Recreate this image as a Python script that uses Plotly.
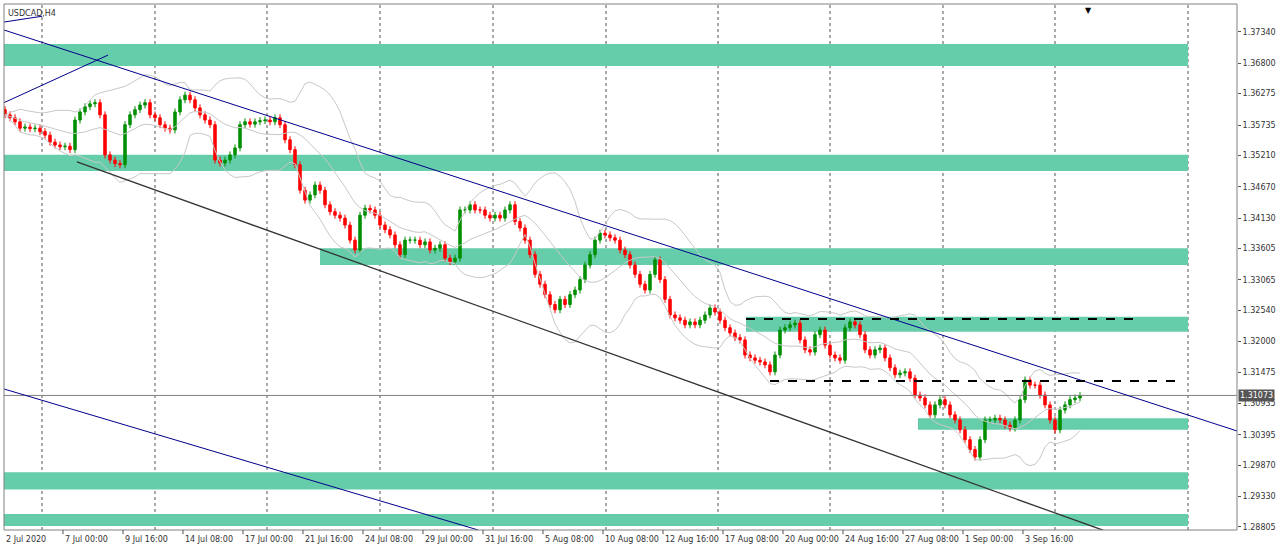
import plotly.graph_objects as go
import pandas as pd

closes = [1.3591,1.3586,1.3579,1.3568,1.3570,1.3567,1.3568,1.3562,1.3556,1.3544,
1.3539,1.3536,1.3537,1.3531,1.3582,1.3596,1.3605,1.3610,1.3612,1.3591,
1.3522,1.3513,1.3507,1.3505,1.3574,1.3591,1.3600,1.3608,1.3612,1.3591,
1.3586,1.3574,1.3568,1.3565,1.3596,1.3617,1.3625,1.3617,1.3603,1.3591,
1.3582,1.3574,1.3513,1.3508,1.3513,1.3522,1.3534,1.3574,1.3579,1.3575,
1.3579,1.3581,1.3582,1.3579,1.3586,1.3574,1.3548,1.3531,1.3505,1.3461,
1.3444,1.3453,1.3470,1.3461,1.3436,1.3424,1.3418,1.3413,1.3401,1.3375,
1.3358,1.3418,1.3430,1.3427,1.3418,1.3401,1.3393,1.3384,1.3367,1.3350,
1.3375,1.3375,1.3375,1.3367,1.3372,1.3358,1.3361,1.3367,1.3344,1.3338,
1.3344,1.3427,1.3427,1.3436,1.3427,1.3427,1.3418,1.3413,1.3418,1.3413,
1.3427,1.3436,1.3407,1.3396,1.3375,1.3350,1.3316,1.3299,1.3281,1.3264,
1.3255,1.3273,1.3264,1.3281,1.3289,1.3307,1.3332,1.3350,1.3375,1.3387,
1.3384,1.3379,1.3375,1.3358,1.3350,1.3332,1.3316,1.3299,1.3289,1.3316,
1.3341,1.3307,1.3273,1.3246,1.3241,1.3237,1.3229,1.3234,1.3229,1.3237,
1.3246,1.3258,1.3251,1.3237,1.3224,1.3215,1.3207,1.3203,1.3177,1.3172,
1.3168,1.3165,1.3160,1.3148,1.3177,1.3220,1.3224,1.3229,1.3232,1.3203,
1.3186,1.3182,1.3212,1.3220,1.3194,1.3177,1.3172,1.3168,1.3224,1.3234,
1.3229,1.3212,1.3186,1.3177,1.3186,1.3189,1.3172,1.3155,1.3143,1.3146,
1.3148,1.3137,1.3108,1.3103,1.3091,1.3074,1.3091,1.3100,1.3091,1.3074,
1.3065,1.3048,1.3031,1.3014,1.3001,1.3031,1.3065,1.3065,1.3068,1.3065,
1.3056,1.3051,1.3065,1.3100,1.3134,1.3125,1.3125,1.3108,1.3091,1.3065,
1.3048,1.3082,1.3091,1.3100,1.3103,1.3107]
first_open = 1.3600
wick = 0.0006
current_price = 1.31073

ytick_vals = [1.37340,1.36800,1.36275,1.35735,1.35210,1.34670,1.34130,1.33605,1.33065,
              1.32540,1.32000,1.31475,1.30935,1.30395,1.29870,1.29330,1.28805]
date_labels = ["7 Jul 00:00","9 Jul 16:00","14 Jul 08:00","17 Jul 00:00","21 Jul 16:00",
               "24 Jul 08:00","29 Jul 00:00","31 Jul 16:00","5 Aug 08:00","10 Aug 08:00",
               "12 Aug 16:00","17 Aug 08:00","20 Aug 00:00","24 Aug 16:00","27 Aug 08:00",
               "1 Sep 00:00","3 Sep 16:00"]
first_label = "2 Jul 2020"

zones = [(-1, 236.6, 1.3675, 1.3713), (-1, 236.6, 1.3494, 1.3522), (63, 236.6, 1.3332, 1.3361),
         (148.2, 236.6, 1.3217, 1.3243), (182.6, 236.6, 1.3048, 1.3068),
         (-1, 236.6, 1.2945, 1.2975), (-1, 236.6, 1.2882, 1.2903)]
lines = [(-0.2, 1.37373, 246.4, 1.30460, "#00008B", 1, "solid"),
         (-0.2, 1.3612, 20.6, 1.3694, "#00008B", 1, "solid"),
         (-0.2, 1.3751, 7.4, 1.3761, "#00008B", 1, "solid"),
         (-0.2, 1.31184, 94.6, 1.28754, "#00008B", 1, "solid"),
         (14.4, 1.35098, 219.6, 1.2875, "#333333", 1.3, "solid"),
         (148.2, 1.3239, 227.0, 1.3239, "#000000", 2, "dash"),
         (153.0, 1.31323, 234.4, 1.31323, "#000000", 2, "dash")]

n = len(closes)
idx = list(range(n))
opens = [first_open] + closes[:-1]
highs = [max(o, c) + wick for o, c in zip(opens, closes)]
lows = [min(o, c) - wick for o, c in zip(opens, closes)]

s = pd.Series(closes)
ma = s.rolling(14, min_periods=1).mean()
sd = s.rolling(14, min_periods=2).std().fillna(0)

def px2k(px):
    return (px - 5) / 5.0

fig = go.Figure()
for band in [ma + 2 * sd, ma - 2 * sd, ma]:
    fig.add_trace(go.Scatter(x=idx, y=band, mode="lines", line=dict(color="#c8c8c8", width=1),
                             hoverinfo="skip", showlegend=False))
fig.add_trace(go.Candlestick(x=idx, open=opens, high=highs, low=lows, close=closes,
                             increasing=dict(line=dict(color="#008f00", width=1), fillcolor="#008f00"),
                             decreasing=dict(line=dict(color="#ff0000", width=1), fillcolor="#ff0000"),
                             whiskerwidth=0, showlegend=False))

shapes = []
for x0, x1, p0, p1 in zones:
    shapes.append(dict(type="rect", x0=x0, x1=x1, y0=p0, y1=p1, fillcolor="#66cdaa",
                       line=dict(width=0), layer="below"))
for gx in [42, 155, 267, 380, 493, 606, 718, 830, 943, 1055, 1188]:
    shapes.append(dict(type="line", x0=px2k(gx), x1=px2k(gx), yref="paper", y0=0, y1=1,
                       line=dict(color="#555555", width=1, dash="3px,3px"), layer="below"))
shapes.append(dict(type="line", xref="paper", x0=0, x1=1, y0=current_price, y1=current_price,
                   line=dict(color="#808080", width=1)))
for x0, y0, x1, y1, col, w, d in lines:
    shapes.append(dict(type="line", x0=x0, y0=y0, x1=x1, y1=y1, line=dict(color=col, width=w, dash=d)))
shapes.append(dict(type="rect", xref="paper", yref="paper", x0=0, x1=1, y0=0, y1=1,
                   line=dict(color="#808080", width=1)))

lab_font = dict(family="DejaVu Sans", size=8, color="#333")
ann = [dict(x=px2k(4), y=-0.005, xref="x", yref="paper", text=first_label, showarrow=False,
            xanchor="left", yanchor="top", font=lab_font)]
for j, lab in enumerate(date_labels):
    ann.append(dict(x=px2k(63 + 60 * j), y=-0.005, xref="x", yref="paper", text=lab,
                    showarrow=False, xanchor="left", yanchor="top", font=lab_font))
    shapes.append(dict(type="line", x0=px2k(63 + 60 * j), x1=px2k(63 + 60 * j), yref="paper",
                       y0=0, y1=-0.008, line=dict(color="#555", width=1)))
ann.append(dict(x=1.0, y=current_price, xref="paper", yref="y", text=f"{current_price:.5f}",
                showarrow=False, xanchor="left", xshift=1, bgcolor="#555555",
                font=dict(family="DejaVu Sans", size=8, color="white"), borderpad=1))
ann.append(dict(x=0.002, y=0.995, xref="paper", yref="paper", text="USDCAD,H4", showarrow=False,
                xanchor="left", yanchor="top", font=lab_font))
ann.append(dict(x=px2k(1088), y=1.0, xref="x", yref="paper", text="▼", showarrow=False,
                yanchor="top", font=dict(size=8, color="#000")))

fig.update_layout(
    width=1280, height=551, margin=dict(l=4, r=43, t=4, b=21, autoexpand=False),
    paper_bgcolor="white", plot_bgcolor="white", shapes=shapes, annotations=ann,
    font=dict(family="DejaVu Sans", size=8, color="#333"),
    xaxis=dict(range=[px2k(4), px2k(1237)], showgrid=False, showticklabels=False,
               rangeslider=dict(visible=False), zeroline=False, automargin=False),
    yaxis=dict(range=[1.28753, 1.37821], side="right", tickvals=ytick_vals, automargin=False,
               ticktext=[f"{v:.5f}" for v in ytick_vals], showgrid=False, zeroline=False,
               ticks="outside", ticklen=3, tickcolor="#555",
               tickfont=dict(family="DejaVu Sans", size=8, color="#333")),
)
fig.write_html("out.html", config={"displayModeBar": False},
               post_script="document.body.style.margin='0';document.body.style.overflow='hidden';")
